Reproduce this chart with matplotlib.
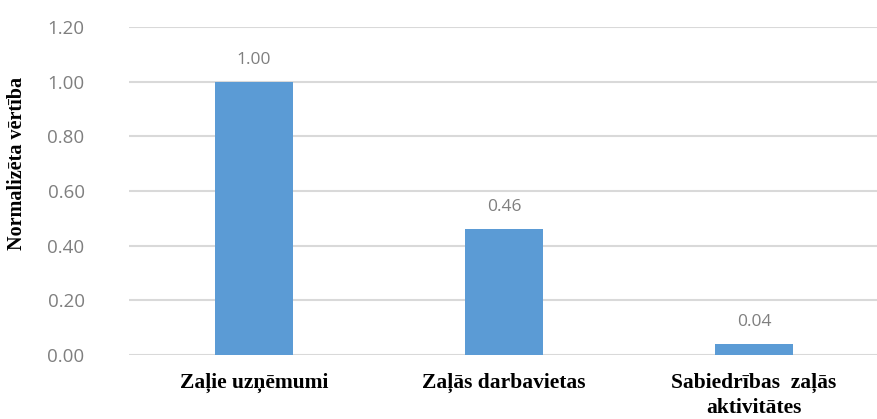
import matplotlib.pyplot as plt
import numpy as np

categories = ['Zaļie uzņēmumi', 'Zaļās darbavietas', 'Sabiedrības  zaļās\naktivitātes']
values = [1.00, 0.46, 0.04]
value_labels = ['1.00', '0.46', '0.04']
y_ticks = [0.0, 0.2, 0.4, 0.6, 0.8, 1.0, 1.2]

fig = plt.figure(figsize=(8.78, 4.19), dpi=100)
ax = fig.add_axes([129 / 878, (419 - 355) / 419, (879 - 129) / 878, (355 - 27) / 419])

x = np.arange(len(categories))
ax.bar(x, values, width=0.31, color='#5B9BD5', zorder=3)

for xi, v, lab in zip(x, values, value_labels):
    ax.annotate(lab, (xi, v), xytext=(0, 10), textcoords='offset points',
                ha='center', va='bottom', fontsize=12.5, color='#7f7f7f',
                family='Open Sans')

ax.set_xlim(-0.5, 2.5)
ax.set_ylim(0, 1.2)
ax.set_yticks(y_ticks)
ax.set_yticklabels([f'{t:.2f}' for t in y_ticks], family='Open Sans', fontsize=13.5, color='#7f7f7f')
ax.set_xticks(x)
ax.set_xticklabels(categories, family='Liberation Serif', fontweight='bold', fontsize=15.5,
                   linespacing=1.3, va='top')
ax.tick_params(axis='y', length=0, pad=32)
ax.tick_params(axis='x', length=0, pad=13)
ax.grid(axis='y', color='#d9d9d9', linewidth=1.5, zorder=0)
for s in ax.spines.values():
    s.set_visible(False)

fig.text(17 / 878, 1 - 163 / 419, 'Normalizēta vērtība', rotation=90, ha='center', va='center',
         family='Liberation Serif', fontweight='bold', fontsize=14.5)

fig.savefig('out.png', dpi=100)
